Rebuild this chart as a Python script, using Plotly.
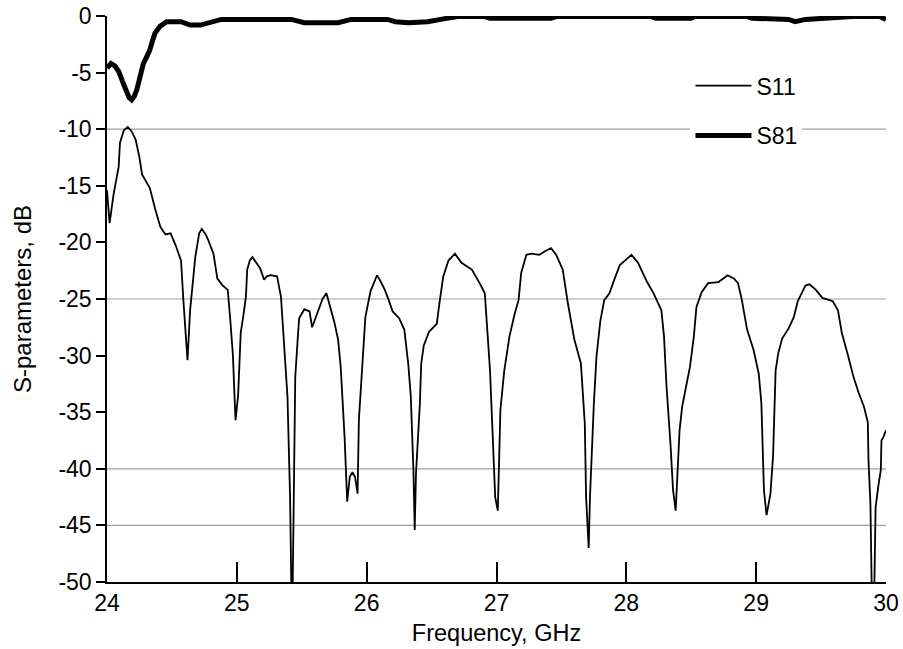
import plotly.graph_objects as go

# ---------------- data ----------------
s11_freq = [24.00, 24.01, 24.02, 24.05, 24.09, 24.10, 24.13, 24.16, 24.19, 24.22, 24.25, 24.27, 24.30, 24.33,
            24.37, 24.41, 24.45, 24.49, 24.53, 24.57, 24.59, 24.61, 24.62, 24.64, 24.66, 24.68, 24.71, 24.73,
            24.76, 24.78, 24.82, 24.85, 24.89, 24.93, 24.95, 24.97, 24.98, 24.99, 25.01, 25.02, 25.03, 25.05,
            25.07, 25.08, 25.10, 25.12, 25.15, 25.18, 25.21, 25.23, 25.26, 25.31, 25.34, 25.36, 25.39, 25.41,
            25.42, 25.43, 25.44, 25.45, 25.47, 25.48, 25.52, 25.56, 25.58, 25.62, 25.66, 25.69, 25.72, 25.75,
            25.78, 25.80, 25.83, 25.85, 25.87, 25.89, 25.91, 25.93, 25.94, 25.97, 25.99, 26.03, 26.06, 26.08,
            26.11, 26.14, 26.17, 26.20, 26.25, 26.29, 26.32, 26.34, 26.36, 26.37, 26.38, 26.41, 26.42, 26.44,
            26.48, 26.54, 26.56, 26.59, 26.63, 26.68, 26.73, 26.81, 26.87, 26.91, 26.95, 26.97, 26.99, 27.01,
            27.02, 27.03, 27.06, 27.10, 27.14, 27.17, 27.19, 27.23, 27.27, 27.33, 27.37, 27.42, 27.46, 27.51,
            27.55, 27.60, 27.65, 27.68, 27.69, 27.71, 27.72, 27.73, 27.75, 27.77, 27.80, 27.83, 27.87, 27.91,
            27.95, 28.00, 28.04, 28.09, 28.16, 28.21, 28.27, 28.29, 28.31, 28.34, 28.36, 28.38, 28.39, 28.41,
            28.43, 28.47, 28.49, 28.52, 28.54, 28.58, 28.63, 28.71, 28.78, 28.83, 28.86, 28.89, 28.93, 28.98,
            29.02, 29.04, 29.06, 29.08, 29.11, 29.13, 29.14, 29.15, 29.17, 29.20, 29.25, 29.29, 29.32, 29.35,
            29.38, 29.41, 29.46, 29.51, 29.59, 29.63, 29.66, 29.71, 29.75, 29.79, 29.83, 29.86, 29.865, 29.88,
            29.89, 29.91, 29.92, 29.94, 29.96, 29.965, 29.98, 30.00]
s11_db = [-15.4, -17.0, -18.3, -15.8, -13.3, -11.2, -10.1, -9.8, -10.2, -10.9, -12.5, -14.0, -14.6, -15.2,
          -17.0, -18.6, -19.3, -19.2, -20.3, -21.6, -25.4, -29.0, -30.4, -26.0, -23.5, -21.3, -19.2, -18.8,
          -19.3, -19.8, -21.0, -23.2, -23.8, -24.2, -26.9, -30.0, -33.0, -35.7, -33.5, -31.3, -28.0, -26.5,
          -24.8, -22.4, -21.6, -21.3, -21.8, -22.3, -23.3, -23.0, -22.9, -23.0, -24.8, -28.3, -33.6, -42.5,
          -50.5, -50.5, -39.5, -31.9, -28.3, -26.7, -25.9, -26.1, -27.5, -26.3, -25.0, -24.5, -25.7, -27.0,
          -28.6, -31.0, -37.2, -42.9, -40.7, -40.3, -40.7, -42.2, -35.7, -30.7, -26.6, -24.3, -23.4, -22.9,
          -23.5, -24.2, -25.1, -26.1, -26.7, -27.7, -30.7, -33.6, -40.1, -45.4, -40.4, -34.2, -30.7, -29.1,
          -27.9, -27.2, -25.4, -23.0, -21.6, -21.0, -21.8, -22.4, -23.6, -24.5, -31.3, -37.8, -42.5, -43.7,
          -40.0, -34.8, -31.3, -28.3, -26.3, -25.1, -22.7, -21.1, -21.0, -21.1, -20.8, -20.5, -21.1, -22.4,
          -25.4, -28.6, -30.7, -36.0, -42.5, -47.0, -42.5, -39.5, -34.2, -30.1, -26.9, -25.1, -24.5, -23.2,
          -22.0, -21.5, -21.1, -21.8, -23.5, -24.5, -26.0, -28.3, -32.8, -37.8, -41.9, -43.7, -41.3, -36.6,
          -34.5, -32.2, -31.0, -28.3, -25.7, -24.4, -23.6, -23.5, -22.9, -23.2, -23.6, -25.1, -27.7, -29.5,
          -31.6, -34.2, -41.9, -44.1, -42.2, -38.9, -34.2, -31.3, -29.8, -28.5, -27.6, -26.6, -25.2, -24.5,
          -23.8, -23.7, -24.2, -24.9, -25.2, -26.0, -28.0, -30.1, -31.9, -33.3, -34.5, -35.9, -39.2, -43.1,
          -50.5, -50.5, -43.4, -41.6, -40.1, -37.5, -37.2, -36.6]

s81_freq = [24.00, 24.03, 24.06, 24.09, 24.12, 24.14, 24.17, 24.19, 24.21, 24.23, 24.26, 24.28, 24.31, 24.33,
            24.35, 24.37, 24.41, 24.46, 24.57, 24.64, 24.72, 24.80, 24.88, 25.42, 25.52, 25.78, 25.88, 26.16,
            26.22, 26.32, 26.47, 26.57, 26.70, 26.91, 26.95, 27.42, 27.46, 28.19, 28.23, 28.50, 28.53, 28.93,
            28.97, 29.25, 29.30, 29.38, 29.74, 29.95, 30.00]
s81_db = [-4.6, -4.2, -4.4, -4.9, -5.8, -6.4, -7.2, -7.4, -7.1, -6.5, -5.2, -4.2, -3.5, -3.0,
          -2.2, -1.5, -0.9, -0.5, -0.5, -0.8, -0.8, -0.6, -0.3, -0.3, -0.6, -0.6, -0.3, -0.3,
          -0.5, -0.6, -0.5, -0.3, -0.05, -0.05, -0.2, -0.2, -0.05, -0.05, -0.2, -0.2, -0.05, -0.05,
          -0.2, -0.3, -0.5, -0.3, -0.05, -0.05, -0.3]

x_ticks = [24, 25, 26, 27, 28, 29, 30]
y_ticks = [0, -5, -10, -15, -20, -25, -30, -35, -40, -45, -50]
y_ticktext = [str(v) for v in y_ticks]
grid_levels = [-10, -25, -40, -45]

FONT = "Liberation Sans, Arial, sans-serif"
FS = 23

fig = go.Figure()
fig.add_trace(go.Scatter(x=s11_freq, y=s11_db, mode="lines", name="S11", legendgroup="a",
                         line=dict(color="black", width=1.8)))
fig.add_trace(go.Scatter(x=s81_freq, y=s81_db, mode="lines", name="S81", legendgroup="b",
                         line=dict(color="black", width=5)))

for g in grid_levels:
    fig.add_hline(y=g, line=dict(color="#a0a0a0", width=1.2), layer="below")

fig.update_layout(
    width=903, height=649,
    margin=dict(l=107, r=17, t=16, b=67),
    paper_bgcolor="white", plot_bgcolor="white",
    font=dict(family=FONT, size=FS, color="black"),
    showlegend=True,
    legend=dict(x=0.749, y=0.915, xanchor="left", yanchor="top", bgcolor="white",
                font=dict(family=FONT, size=FS, color="black"),
                traceorder="grouped", tracegroupgap=17, itemwidth=56),
    xaxis=dict(range=[24, 30], tickvals=x_ticks, ticks="inside", ticklen=20, tickwidth=1.5,
               tickcolor="black", showline=True, linecolor="black", linewidth=1.5, showgrid=False,
               zeroline=False, ticklabelstandoff=0, automargin=False,
               title=dict(text="Frequency, GHz", standoff=9, font=dict(family=FONT, size=23.5))),
    xaxis2=dict(range=[24, 30], overlaying="x", side="top", tickvals=x_ticks, ticks="inside",
                ticklen=10, tickwidth=1.5, tickcolor="black", showline=True, linecolor="black",
                linewidth=1.5, showticklabels=False, showgrid=False, zeroline=False, automargin=False),
    yaxis=dict(range=[-50, 0], tickvals=y_ticks, ticktext=y_ticktext, ticks="outside", ticklen=9,
               tickwidth=1.5, tickcolor="black", showline=True, linecolor="black", linewidth=1.5,
               showgrid=False, zeroline=False, automargin=False,
               title=dict(text="S-parameters, dB", standoff=20, font=dict(family=FONT, size=24))),
    yaxis2=dict(range=[-50, 0], overlaying="y", side="right", showline=True, linecolor="#909090",
                linewidth=1.5, showticklabels=False, ticks="", showgrid=False, zeroline=False,
                automargin=False),
)

fig.write_html("out.html")
